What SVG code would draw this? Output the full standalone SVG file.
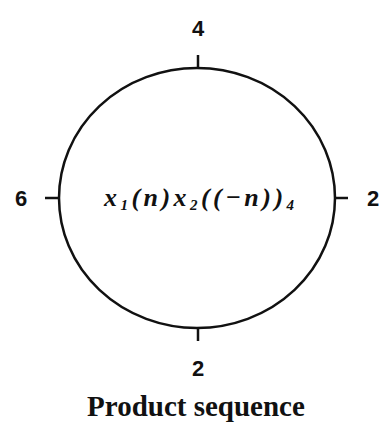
<svg xmlns="http://www.w3.org/2000/svg" width="390" height="424" viewBox="0 0 390 424">
<style>
.num{font-family:"Liberation Sans",Arial,sans-serif;font-weight:bold;font-size:22px;fill:#111;}
.ln{stroke:#111;stroke-width:2.5;fill:none;}
.math{font-family:"Liberation Serif","Times New Roman",serif;font-style:italic;font-weight:bold;font-size:26px;fill:#111;}
.cap{font-family:"Liberation Serif","Times New Roman",serif;font-weight:bold;font-size:29px;fill:#111;}
</style>
<rect width="390" height="424" fill="#fff"/>
<g id="circle">
<ellipse class="ln" cx="197" cy="198" rx="138" ry="130"/>
<text class="math" x="104" y="206" textLength="190" lengthAdjust="spacing">x<tspan font-size="15" dy="4">1</tspan><tspan dy="-4">(n)x</tspan><tspan font-size="15" dy="4">2</tspan><tspan dy="-4">((−n))</tspan><tspan font-size="15" dy="4">4</tspan></text>
</g>
<g id="connectors">
<line class="ln" x1="198" y1="55" x2="198" y2="68"/>
<line class="ln" x1="45" y1="198" x2="59" y2="198"/>
<line class="ln" x1="335" y1="198" x2="348" y2="198"/>
<line class="ln" x1="198" y1="328" x2="198" y2="341"/>
</g>
<g id="labels">
<text class="num" x="198" y="36" text-anchor="middle">4</text>
<text class="num" x="21" y="206" text-anchor="middle">6</text>
<text class="num" x="373" y="206" text-anchor="middle">2</text>
<text class="num" x="198" y="376" text-anchor="middle">2</text>
<text class="cap" x="196" y="416" text-anchor="middle">Product sequence</text>
</g>
</svg>
